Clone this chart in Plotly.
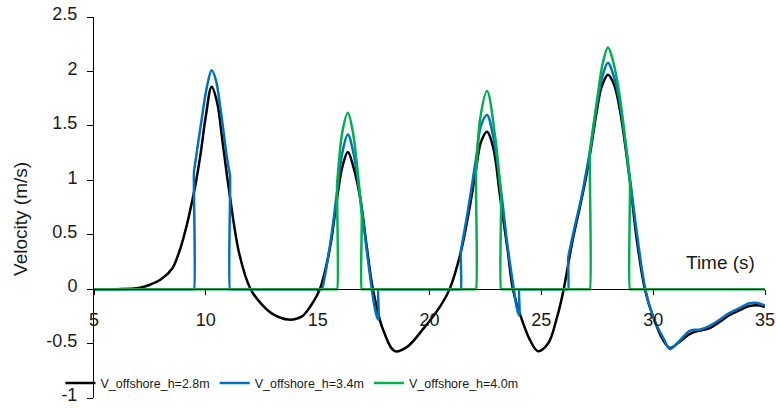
import plotly.graph_objects as go

# ---------------- data ----------------
T_H28 = [5, 6, 7, 7.5, 8, 8.5, 8.7, 9, 9.5, 9.77, 10, 10.26, 10.5, 10.75, 11.03, 11.5, 12, 12.5, 13, 13.7,
         14.3, 14.7, 15.1, 15.55, 15.87, 16.1, 16.35, 16.6, 16.9, 17.2, 17.47, 17.92, 18.45, 19.0, 19.7, 20.47,
         20.9, 21.4, 21.75, 22.08, 22.3, 22.57, 22.85, 23.15, 23.5, 23.73, 24.13, 24.5, 24.85, 25.3, 25.7, 26.0,
         26.37, 26.73, 27.0, 27.2, 27.49, 27.7, 27.98, 28.25, 28.51, 28.96, 29.27, 29.63, 29.99, 30.45, 30.75, 31.2,
         31.65, 32.1, 32.5, 32.98, 33.4, 33.9, 34.3, 34.77, 35]
V_H28 = [0, 0, 0.01, 0.04, 0.09, 0.19, 0.28, 0.47, 0.92, 1.25, 1.59, 1.86, 1.72, 1.35, 0.92, 0.32, 0, -0.14, -0.23, -0.28,
         -0.25, -0.15, 0, 0.38, 0.84, 1.12, 1.26, 1.12, 0.84, 0.38, 0, -0.37, -0.57, -0.53, -0.37, -0.16,
         0, 0.34, 0.7, 1.1, 1.35, 1.445, 1.3, 0.86, 0.35, 0, -0.28, -0.47, -0.57, -0.5, -0.26, 0,
         0.42, 0.76, 1.03, 1.27, 1.65, 1.86, 1.97, 1.88, 1.65, 0.99, 0.45, 0, -0.25, -0.47, -0.54, -0.48,
         -0.41, -0.38, -0.36, -0.30, -0.24, -0.19, -0.155, -0.15, -0.165]

T_H34 = [5, 9.45, 9.47, 9.47, 9.49, 9.77, 10.05, 10.26, 10.45, 10.66, 10.95, 11.06, 11.08, 11.08, 11.1,
         15.17, 15.19, 15.55, 15.87, 16.1, 16.35, 16.6, 16.9, 17.2, 17.42, 17.55, 17.68, 17.72, 17.72, 17.75,
         21.38, 21.4, 21.4, 21.42, 21.7, 22.08, 22.3, 22.57, 22.85, 23.2, 23.5, 23.77, 23.9, 24.0, 24.02, 24.02, 24.05,
         26.18, 26.2, 26.2, 26.22, 26.5, 26.8, 27.0, 27.2, 27.5, 27.75, 27.98, 28.2, 28.5, 28.96, 29.3, 29.65, 29.99,
         30.48, 30.75, 31.2, 31.65, 32.1, 32.5, 32.98, 33.4, 33.9, 34.3, 34.6, 35]
V_H34 = [0, 0, 0, 1.08, 1.11, 1.5, 1.86, 2.01, 1.92, 1.65, 1.2, 1.07, 1.05, 0, 0,
         0, 0, 0.4, 0.9, 1.25, 1.42, 1.25, 0.85, 0.35, 0, -0.17, -0.27, -0.28, 0, 0,
         0, 0, 0.34, 0.37, 0.7, 1.2, 1.5, 1.6, 1.4, 0.9, 0.38, 0, -0.17, -0.24, -0.24, 0, 0,
         0, 0, 0.28, 0.31, 0.58, 0.85, 1.07, 1.3, 1.72, 1.97, 2.08, 1.98, 1.72, 1.02, 0.47, 0, -0.25,
         -0.46, -0.55, -0.47, -0.38, -0.37, -0.34, -0.28, -0.22, -0.17, -0.13, -0.125, -0.15]

T_H40 = [5, 15.85, 15.87, 15.87, 15.89, 16.1, 16.35, 16.55, 16.76, 16.95, 16.97, 16.97, 16.99,
         22.06, 22.08, 22.08, 22.1, 22.26, 22.57, 22.93, 23.18, 23.2, 23.2, 23.22,
         27.15, 27.17, 27.17, 27.19, 27.5, 27.75, 27.98, 28.2, 28.5, 28.94, 28.96, 28.96, 28.98, 35]
V_H40 = [0, 0, 0, 0.98, 1.02, 1.44, 1.62, 1.47, 1.14, 0.72, 0.68, 0, 0,
         0, 0, 1.08, 1.12, 1.56, 1.82, 1.41, 0.9, 0.86, 0, 0,
         0, 0, 1.27, 1.3, 1.75, 2.08, 2.22, 2.1, 1.78, 1.03, 1.0, 0, 0, 0]

SERIES_NAMES = ["V_offshore_h=2.8m", "V_offshore_h=3.4m", "V_offshore_h=4.0m"]
SERIES_COLORS = ["#000000", "#0070C0", "#00B050"]

X_TICKS = [5, 10, 15, 20, 25, 30, 35]
Y_TICKS = [-1, -0.5, 0, 0.5, 1, 1.5, 2, 2.5]
Y_TICK_TEXT = ["-1", "-0.5", "0", "0.5", "1", "1.5", "2", "2.5"]
X_RANGE = [5, 35]
Y_RANGE = [-1, 2.5]

FONT = "Liberation Sans, Arial, sans-serif"
TXT = "#1a1a1a"

fig = go.Figure()
for t, v, name, col in zip([T_H28, T_H34, T_H40], [V_H28, V_H34, V_H40], SERIES_NAMES, SERIES_COLORS):
    fig.add_trace(go.Scatter(x=t, y=v, mode="lines", name=name,
                             line=dict(color=col, width=2.5, shape="spline", smoothing=1.0)))

zero_pos = (0 - Y_RANGE[0]) / (Y_RANGE[1] - Y_RANGE[0])

fig.update_layout(
    width=776, height=409,
    margin=dict(l=94, r=11, t=17, b=11, autoexpand=False),
    paper_bgcolor="white", plot_bgcolor="white",
    font=dict(family=FONT, size=18, color=TXT),
    showlegend=True,
    legend=dict(orientation="h", x=-0.05, y=-0.001, xanchor="left", yanchor="bottom",
                font=dict(family=FONT, size=12.5, color=TXT), bgcolor="rgba(0,0,0,0)",
                itemwidth=30, traceorder="normal"),
    xaxis=dict(range=X_RANGE, tickvals=X_TICKS, showgrid=False, zeroline=False,
               showline=True, linecolor="#000000", linewidth=1,
               ticks="outside", ticklen=5, tickcolor="#000000",
               anchor="free", position=zero_pos, ticklabelstandoff=9,
               tickfont=dict(family=FONT, size=18, color=TXT)),
    yaxis=dict(range=Y_RANGE, tickvals=Y_TICKS, ticktext=Y_TICK_TEXT, showgrid=False, zeroline=False,
               showline=True, linecolor="#000000", linewidth=1,
               ticks="outside", ticklen=6, tickcolor="#000000", ticklabelstandoff=6,
               ticklabeloverflow="allow", ticklabelshift=-3,
               tickfont=dict(family=FONT, size=18, color=TXT)),
    annotations=[
        dict(text="Velocity (m/s)", xref="paper", yref="paper", x=-0.1088, y=0.47,
             textangle=-90, showarrow=False, font=dict(family=FONT, size=19, color=TXT),
             xanchor="center", yanchor="middle"),
        dict(text="Time (s)", xref="paper", yref="paper", x=0.933, y=0.356,
             showarrow=False, font=dict(family=FONT, size=19, color=TXT),
             xanchor="center", yanchor="middle"),
    ],
)

fig.write_html("out.html")
